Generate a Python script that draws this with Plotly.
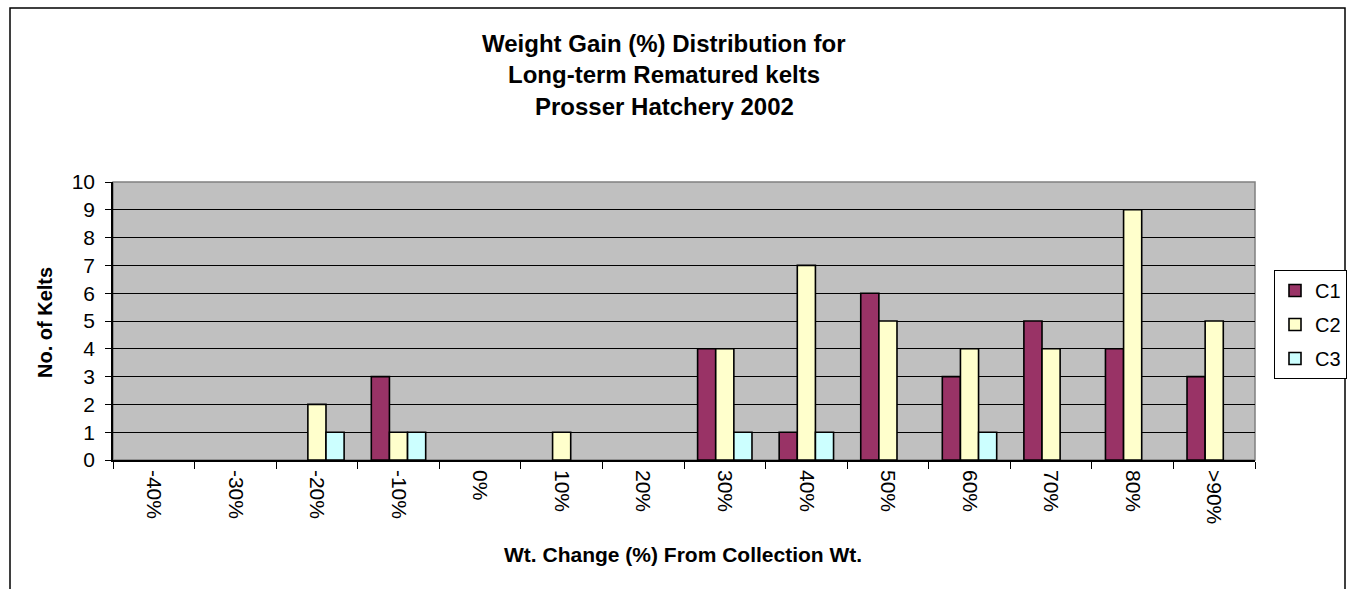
import plotly.graph_objects as go

# Weight-change bins and kelt counts per group
categories = ["-40%", "-30%", "-20%", "-10%", "0%", "10%", "20%",
              "30%", "40%", "50%", "60%", "70%", "80%", ">90%"]
c1_counts = [0, 0, 0, 3, 0, 0, 0, 4, 1, 6, 3, 5, 4, 3]
c2_counts = [0, 0, 2, 1, 0, 1, 0, 4, 7, 5, 4, 4, 9, 5]
c3_counts = [0, 0, 1, 1, 0, 0, 0, 1, 1, 0, 1, 0, 0, 0]
series_names = ["C1", "C2", "C3"]
series_colors = ["#993366", "#FFFFCC", "#CCFFFF"]
y_ticks = list(range(0, 11))

title_lines = ["Weight Gain (%) Distribution for",
               "Long-term Rematured kelts",
               "Prosser Hatchery 2002"]

W, H = 1350, 589
PL, PR, PT, PB = 113, 1255, 182, 460  # plot area in pixels
FONT = "Arial, Liberation Sans, sans-serif"


def px_x(x):
    return (x - PL) / (PR - PL)


def px_y(y):
    return (PB - y) / (PB - PT)


fig = go.Figure()
for name, vals, col in zip(series_names, [c1_counts, c2_counts, c3_counts], series_colors):
    # empty bins are left blank rather than drawn as flat outlines
    shown = [v if v > 0 else None for v in vals]
    fig.add_trace(go.Bar(
        x=categories, y=shown, name=name,
        marker=dict(color=col, line=dict(color="black", width=1.6)),
        legendgroup=name,
    ))

annotations = []
for i, line in enumerate(title_lines):
    annotations.append(dict(
        text=f"<b>{line}</b>", x=px_x(664), y=px_y(43 + 32 * i),
        xref="paper", yref="paper", xanchor="center", yanchor="middle",
        showarrow=False, font=dict(family=FONT, size=24, color="black"),
    ))
annotations.append(dict(
    text="<b>Wt. Change (%) From Collection Wt.</b>", x=px_x(683), y=px_y(554),
    xref="paper", yref="paper", xanchor="center", yanchor="middle",
    showarrow=False, font=dict(family=FONT, size=21, color="black"),
))
annotations.append(dict(
    text="<b>No. of Kelts</b>", x=px_x(45), y=px_y(323), textangle=-90,
    xref="paper", yref="paper", xanchor="center", yanchor="middle",
    showarrow=False, font=dict(family=FONT, size=20, color="black"),
))

shapes = [
    # outer chart frame
    dict(type="rect", xref="paper", yref="paper",
         x0=px_x(10), x1=px_x(1345), y0=px_y(600), y1=px_y(8),
         line=dict(color="black", width=1.5), layer="below"),
    # plot area border
    dict(type="rect", xref="paper", yref="paper",
         x0=0, x1=1, y0=0, y1=1,
         line=dict(color="#808080", width=1.5), layer="below"),
]

fig.update_layout(
    width=W, height=H,
    margin=dict(l=PL, r=W - PR, t=PT, b=H - PB, pad=0),
    paper_bgcolor="white", plot_bgcolor="#C0C0C0",
    barmode="group", bargap=1.5 / 4.5, bargroupgap=0,
    font=dict(family=FONT, size=20, color="black"),
    showlegend=True,
    legend=dict(
        xref="container", yref="container",
        x=1274 / W, y=1 - 270 / H, xanchor="left", yanchor="top",
        bgcolor="white", bordercolor="black", borderwidth=1,
        font=dict(family=FONT, size=20, color="black"),
        tracegroupgap=5, itemwidth=30,
    ),
    annotations=annotations,
    shapes=shapes,
)

fig.update_xaxes(
    type="category", tickangle=90, tickson="boundaries",
    ticks="outside", ticklen=7, tickcolor="black", tickwidth=1,
    showline=True, linecolor="black", linewidth=1.5, mirror=False,
    showgrid=False, automargin=False, ticklabelstandoff=4,
    tickfont=dict(family=FONT, size=21, color="black"),
)
fig.update_yaxes(
    range=[0, 10], tickvals=y_ticks, ticks="outside", ticklen=6,
    tickcolor="black", showline=True, linecolor="black", linewidth=1.5,
    showgrid=True, gridcolor="black", gridwidth=1, zeroline=False,
    ticklabelstandoff=6, automargin=False,
    tickfont=dict(family=FONT, size=21, color="black"),
)

fig.write_html("out.html")
